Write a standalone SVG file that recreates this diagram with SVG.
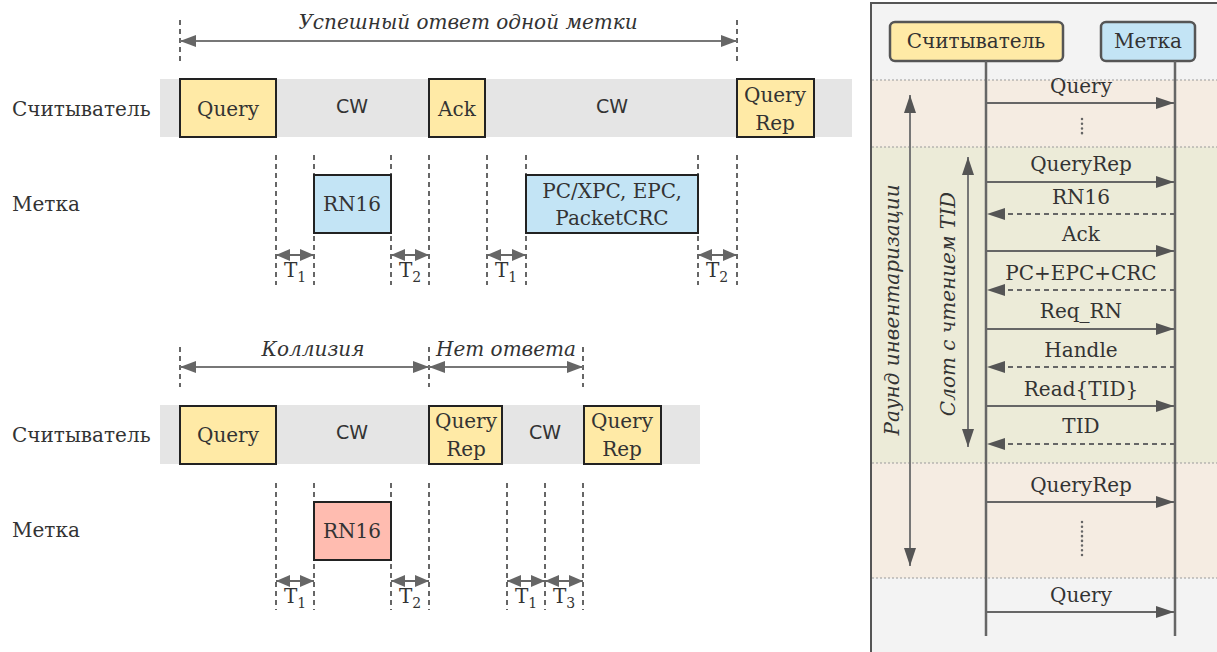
<svg xmlns="http://www.w3.org/2000/svg" width="1217" height="652" viewBox="0 0 1217 652">
<style>
text{font-family:"DejaVu Serif","Liberation Serif",serif;fill:#333;font-size:20px}
.it{font-style:italic}
.cw{font-family:"DejaVu Sans","Liberation Sans",sans-serif;font-size:19px}
.mid{text-anchor:middle}
.band{fill:#e5e5e5}
.rd{fill:#ffeaa6;stroke:#222;stroke-width:2}
.tg{fill:#c3e4f5;stroke:#222;stroke-width:2}
.col{fill:#ffbcb0;stroke:#222;stroke-width:2}
.dv{stroke:#666;stroke-width:2;stroke-dasharray:5 4;fill:none}
.ar{stroke:#777;stroke-width:2;fill:none;marker-start:url(#ah);marker-end:url(#ah)}
.sa{stroke:#666;stroke-width:2;fill:none;marker-start:url(#sh);marker-end:url(#sh)}
.msg{stroke:#666;stroke-width:2;fill:none;marker-end:url(#mh)}
.rsp{stroke:#666;stroke-width:2;fill:none;stroke-dasharray:5 4;marker-end:url(#mh)}
.life{stroke:#666;stroke-width:2.5}
.sep{stroke:#999;stroke-width:1.2;stroke-dasharray:2 2}
.va{stroke:#777;stroke-width:2;fill:none;marker-start:url(#mh);marker-end:url(#mh)}
.dots{stroke:#666;stroke-width:2.5;stroke-dasharray:0.1 4.6;stroke-linecap:round}
</style>
<defs>
<marker id="ah" markerUnits="userSpaceOnUse" markerWidth="16" markerHeight="12" refX="16" refY="6" orient="auto-start-reverse"><path d="M0,0 L16,6 L0,12 z" fill="#666"/></marker>
<marker id="sh" markerUnits="userSpaceOnUse" markerWidth="14" markerHeight="12" refX="14" refY="6" orient="auto-start-reverse"><path d="M0,0 L14,6 L0,12 z" fill="#666"/></marker>
<marker id="mh" markerUnits="userSpaceOnUse" markerWidth="18" markerHeight="12" refX="18" refY="6" orient="auto-start-reverse"><path d="M0,0 L18,6 L0,12 z" fill="#555"/></marker>
</defs>
<rect width="1217" height="652" fill="#fff"/>

<!-- Top timing diagram -->
<g id="top-title">
<line class="dv" x1="180" y1="20" x2="180" y2="62"/>
<line class="dv" x1="737" y1="20" x2="737" y2="62"/>
<line class="ar" x1="180" y1="41" x2="737" y2="41"/>
<text class="it mid" x="468" y="29">Успешный ответ одной метки</text>
</g>
<g id="top-reader">
<rect class="band" x="160" y="79" width="692" height="58"/>
<text x="12" y="116">Считыватель</text>
<text class="cw mid" x="352" y="113">CW</text>
<text class="cw mid" x="612" y="113">CW</text>
</g>
<g id="top-query"><rect class="rd" x="180" y="79" width="96" height="58"/><text class="mid" x="228" y="116">Query</text></g>
<g id="top-ack"><rect class="rd" x="429" y="79" width="56" height="58"/><text class="mid" x="457" y="116">Ack</text></g>
<g id="top-queryrep"><rect class="rd" x="737" y="79" width="77" height="58"/><text class="mid" x="775" y="102">Query</text><text class="mid" x="775" y="130">Rep</text></g>
<g id="top-tag">
<text x="12" y="211">Метка</text>
<line class="dv" x1="276" y1="155" x2="276" y2="285"/>
<line class="dv" x1="314" y1="155" x2="314" y2="285"/>
<line class="dv" x1="391" y1="155" x2="391" y2="285"/>
<line class="dv" x1="429" y1="155" x2="429" y2="285"/>
<line class="dv" x1="487" y1="155" x2="487" y2="285"/>
<line class="dv" x1="526" y1="155" x2="526" y2="285"/>
<line class="dv" x1="698" y1="155" x2="698" y2="285"/>
<line class="dv" x1="737" y1="155" x2="737" y2="285"/>
</g>
<g id="top-rn16"><rect class="tg" x="314" y="175" width="77" height="58"/><text class="mid" x="352" y="211">RN16</text></g>
<g id="top-epc"><rect class="tg" x="526" y="175" width="172" height="58"/><text class="mid" x="612" y="198">PC/XPC, EPC,</text><text class="mid" x="612" y="225">PacketCRC</text></g>
<g id="top-times">
<line class="sa" x1="276" y1="255" x2="314" y2="255"/>
<line class="sa" x1="391" y1="255" x2="429" y2="255"/>
<line class="sa" x1="487" y1="255" x2="526" y2="255"/>
<line class="sa" x1="698" y1="255" x2="737" y2="255"/>
<text x="284" y="277">T<tspan font-size="14" dy="5">1</tspan></text>
<text x="399" y="277">T<tspan font-size="14" dy="5">2</tspan></text>
<text x="495" y="277">T<tspan font-size="14" dy="5">1</tspan></text>
<text x="706" y="277">T<tspan font-size="14" dy="5">2</tspan></text>
</g>

<!-- Bottom timing diagram -->
<g id="bot-title">
<line class="dv" x1="180" y1="347" x2="180" y2="387"/>
<line class="dv" x1="429" y1="347" x2="429" y2="387"/>
<line class="dv" x1="583" y1="347" x2="583" y2="387"/>
<line class="ar" x1="180" y1="367" x2="429" y2="367"/>
<line class="ar" x1="429" y1="367" x2="583" y2="367"/>
<text class="it mid" x="313" y="356">Коллизия</text>
<text class="it mid" x="506" y="356">Нет ответа</text>
</g>
<g id="bot-reader">
<rect class="band" x="160" y="405" width="540" height="59"/>
<text x="12" y="442">Считыватель</text>
<text class="cw mid" x="352" y="439">CW</text>
<text class="cw mid" x="545" y="439">CW</text>
</g>
<g id="bot-query"><rect class="rd" x="180" y="406" width="96" height="58"/><text class="mid" x="228" y="442">Query</text></g>
<g id="bot-queryrep1"><rect class="rd" x="429" y="406" width="73" height="58"/><text class="mid" x="466" y="428">Query</text><text class="mid" x="466" y="456">Rep</text></g>
<g id="bot-queryrep2"><rect class="rd" x="584" y="406" width="77" height="58"/><text class="mid" x="622" y="428">Query</text><text class="mid" x="622" y="456">Rep</text></g>
<g id="bot-tag">
<text x="12" y="537">Метка</text>
<line class="dv" x1="276" y1="483" x2="276" y2="610"/>
<line class="dv" x1="314" y1="483" x2="314" y2="610"/>
<line class="dv" x1="391" y1="483" x2="391" y2="610"/>
<line class="dv" x1="429" y1="483" x2="429" y2="610"/>
<line class="dv" x1="507" y1="483" x2="507" y2="610"/>
<line class="dv" x1="545" y1="483" x2="545" y2="610"/>
<line class="dv" x1="583" y1="483" x2="583" y2="610"/>
</g>
<g id="bot-rn16"><rect class="col" x="314" y="502" width="77" height="58"/><text class="mid" x="352" y="538">RN16</text></g>
<g id="bot-times">
<line class="sa" x1="276" y1="581" x2="314" y2="581"/>
<line class="sa" x1="391" y1="581" x2="429" y2="581"/>
<line class="sa" x1="507" y1="581" x2="545" y2="581"/>
<line class="sa" x1="545" y1="581" x2="583" y2="581"/>
<text x="284" y="603">T<tspan font-size="14" dy="5">1</tspan></text>
<text x="399" y="603">T<tspan font-size="14" dy="5">2</tspan></text>
<text x="515" y="603">T<tspan font-size="14" dy="5">1</tspan></text>
<text x="553" y="603">T<tspan font-size="14" dy="5">3</tspan></text>
</g>

<!-- Right sequence panel -->
<g id="panel">
<rect x="871" y="3" width="360" height="660" fill="#f3f3f3" stroke="#555" stroke-width="2"/>
<rect x="872" y="80" width="350" height="67" fill="#f5ece2"/>
<rect x="872" y="147" width="350" height="316" fill="#ecebd8"/>
<rect x="872" y="463" width="350" height="115" fill="#f5ece2"/>
<line class="sep" x1="872" y1="80" x2="1217" y2="80"/>
<line class="sep" x1="872" y1="147" x2="1217" y2="147"/>
<line class="sep" x1="872" y1="463" x2="1217" y2="463"/>
<line class="sep" x1="872" y1="578" x2="1217" y2="578"/>
</g>
<g id="reader-node"><rect x="890" y="22" width="173" height="39" rx="5" fill="#ffeaa6" stroke="#555" stroke-width="2.5"/><text class="mid" x="976" y="48">Считыватель</text></g>
<g id="tag-node"><rect x="1101" y="22" width="94" height="39" rx="5" fill="#c3e4f5" stroke="#555" stroke-width="2.5"/><text class="mid" x="1148" y="48">Метка</text></g>
<g id="lifelines">
<line class="life" x1="986" y1="61" x2="986" y2="636"/>
<line class="life" x1="1175" y1="61" x2="1175" y2="636"/>
</g>
<g id="round">
<line class="va" x1="910" y1="95" x2="910" y2="566"/>
<text class="it mid" transform="translate(899,310) rotate(-90)">Раунд инвентаризации</text>
</g>
<g id="slot">
<line class="va" x1="968" y1="157" x2="968" y2="447"/>
<text class="it mid" transform="translate(955,304) rotate(-90)">Слот с чтением TID</text>
</g>
<g id="messages">
<line class="msg" x1="986" y1="103" x2="1174" y2="103"/><text class="mid" x="1081" y="93">Query</text>
<line class="dots" x1="1082" y1="119" x2="1082" y2="136"/>
<line class="msg" x1="986" y1="182" x2="1174" y2="182"/><text class="mid" x="1081" y="171">QueryRep</text>
<line class="rsp" x1="1175" y1="214" x2="987" y2="214"/><text class="mid" x="1081" y="204">RN16</text>
<line class="msg" x1="986" y1="251" x2="1174" y2="251"/><text class="mid" x="1081" y="241">Ack</text>
<line class="rsp" x1="1175" y1="290" x2="987" y2="290"/><text class="mid" x="1081" y="280">PC+EPC+CRC</text>
<line class="msg" x1="986" y1="329" x2="1174" y2="329"/><text class="mid" x="1081" y="318">Req_RN</text>
<line class="rsp" x1="1175" y1="367" x2="987" y2="367"/><text class="mid" x="1081" y="357">Handle</text>
<line class="msg" x1="986" y1="406" x2="1174" y2="406"/><text class="mid" x="1081" y="396">Read{TID}</text>
<line class="rsp" x1="1175" y1="444" x2="987" y2="444"/><text class="mid" x="1081" y="433">TID</text>
<line class="msg" x1="986" y1="502" x2="1174" y2="502"/><text class="mid" x="1081" y="492">QueryRep</text>
<line class="dots" x1="1082" y1="522" x2="1082" y2="559"/>
<line class="msg" x1="986" y1="612" x2="1174" y2="612"/><text class="mid" x="1081" y="602">Query</text>
</g>
</svg>
